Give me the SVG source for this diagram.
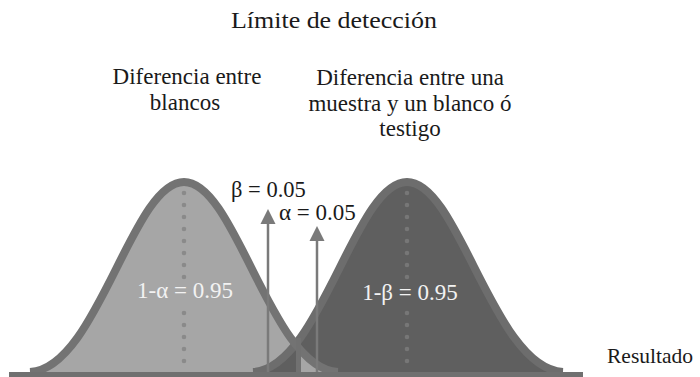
<svg xmlns="http://www.w3.org/2000/svg" width="700" height="377" viewBox="0 0 700 377">
<style>
text{font-family:"Liberation Serif","Times New Roman",serif;fill:#1a1a1a}
.lbl{font-size:23px;text-anchor:middle}
.inner{font-size:23px;fill:#f2f2f2;text-anchor:middle}
.dotsL{stroke:#8a8a8a;stroke-width:4.6;stroke-linecap:round;stroke-dasharray:0 12}
.dotsR{stroke:#777777;stroke-width:4.6;stroke-linecap:round;stroke-dasharray:0 12}
.arrow{stroke:#7a7a7a;stroke-width:2.5}
.head{fill:#7a7a7a}
</style>
<defs>
<clipPath id="alphaClip"><rect x="298" y="0" width="120" height="377"/></clipPath>
</defs>
<rect width="700" height="377" fill="#ffffff"/>
<g id="title"><text x="334" y="28" font-size="24" text-anchor="middle" textLength="206" lengthAdjust="spacingAndGlyphs">Límite de detección</text></g>
<g id="label-blancos">
<text class="lbl" x="187" y="84">Diferencia entre</text>
<text class="lbl" x="185" y="110">blancos</text>
</g>
<g id="label-muestra">
<text class="lbl" x="410" y="85">Diferencia entre una</text>
<text class="lbl" x="410" y="111">muestra y un blanco ó</text>
<text class="lbl" x="410" y="136">testigo</text>
</g>
<g id="curve-blancos">
<path d="M30 372 C97 369 132 182 184 182 C236 182 271 369 338 372 Z" fill="#a6a6a6"/>
</g>
<g id="curve-muestra">
<path d="M253 372 C320 369 355 182 407 182 C459 182 494 369 563 372 Z" fill="#5f5f5f"/>
</g>
<g id="alpha-area">
<path d="M30 372 C97 369 132 182 184 182 C236 182 271 369 338 372 Z" fill="#a6a6a6" clip-path="url(#alphaClip)"/>
</g>
<g id="outlines" fill="none">
<path d="M253 372 C320 369 355 182 407 182 C459 182 494 369 563 372" stroke="#6d6d6d" stroke-width="8"/>
<path d="M30 372 C97 369 132 182 184 182 C236 182 271 369 338 372" stroke="#737373" stroke-width="8"/>
<rect x="296" y="338" width="5" height="36" fill="#717171"/>
</g>
<g id="baseline"><rect x="9" y="372" width="574" height="5" fill="#707070"/></g>
<g id="means">
<line class="dotsL" x1="184" y1="193" x2="184" y2="278"/>
<line class="dotsL" x1="184" y1="313" x2="184" y2="373"/>
<line class="dotsR" x1="407" y1="193" x2="407" y2="278"/>
<line class="dotsR" x1="407" y1="313" x2="407" y2="373"/>
</g>
<g id="connectors">
<line class="arrow" x1="268" y1="372" x2="268" y2="222"/>
<polygon class="head" points="268,209 275.5,224 260.5,224"/>
<line class="arrow" x1="317" y1="372" x2="317" y2="238"/>
<polygon class="head" points="317,226 324.5,241 309.5,241"/>
</g>
<g id="texts">
<text x="231" y="197" font-size="22.5">β = 0.05</text>
<text x="279" y="220" font-size="23">α = 0.05</text>
<text class="inner" x="185" y="298">1-α = 0.95</text>
<text class="inner" x="410" y="300">1-β = 0.95</text>
<text x="607" y="363" font-size="21.5">Resultado</text>
</g>
</svg>
